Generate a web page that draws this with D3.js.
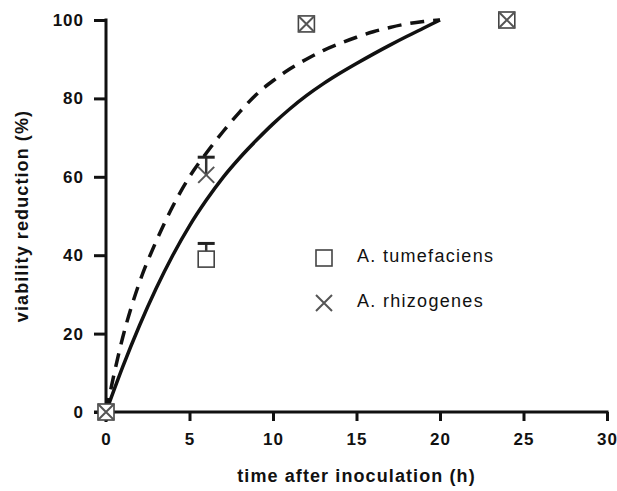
<!DOCTYPE html>
<meta charset="utf-8">
<head>
    <title>Viability reduction</title>
</head>
<style>
 body { margin: 0; background: #fff; }
 text { font-family: "Liberation Sans", Arial, sans-serif; }
 .axis path, .axis line { stroke: #111; stroke-width: 3px; }
 .axis text { font-size: 17px; font-weight: bold; fill: #111; letter-spacing: 1px; }
 .title { font-size: 18px; font-weight: bold; fill: #111; letter-spacing: 1.1px; }
 .legend { font-size: 18px; fill: #111; letter-spacing: 1.3px; }
</style>
<body>
<div id="chart"></div>
<script src="https://d3js.org/d3.v7.min.js"></script>
<script>

 // fitted curves
 var curveX = [0, 1, 2, 3, 4, 5, 6, 7, 8, 9, 10, 11, 12, 13, 14, 15, 16, 17, 18, 19, 20];
 var solidY = [0, 11.5, 22, 31.5, 40, 47.5, 54, 59.8, 64.8, 69.3, 73.5, 77.3, 80.7, 83.7, 86.4, 88.9, 91.3, 93.6, 95.8, 97.9, 100];
 var dashedY = [0, 19, 33, 43.5, 52.5, 60, 66, 71.5, 76.5, 81, 84.5, 87.5, 90, 92.2, 94, 95.6, 97, 98.1, 99, 99.6, 100];

 // measured points
 var timeH = [0, 6, 12, 24];
 var tumefaciens = [0, 39, 99, 100];
 var tumefaciensErr = [0, 4, 0, 0];
 var rhizogenes = [0, 60.5, 99, 100];
 var rhizogenesErr = [0, 4.5, 0, 0];

 var xTicks = [0, 5, 10, 15, 20, 25, 30];
 var yTicks = [0, 20, 40, 60, 80, 100];

 var width = 617, height = 491;
 var margin = {left: 106, right: 10, top: 20, bottom: 79};

 var svg = d3.select("#chart").append("svg")
             .attr("width", width)
             .attr("height", height);

 var x = d3.scaleLinear().domain([0, 30]).range([margin.left, 607]);
 var y = d3.scaleLinear().domain([0, 100]).range([height - margin.bottom, margin.top]);

 // axes
 var xAxis = svg.append("g")
                .attr("class", "axis")
                .attr("transform", "translate(0," + y(0) + ")")
                .call(d3.axisBottom(x).tickValues(xTicks).tickSize(9).tickSizeOuter(0).tickPadding(12));
 xAxis.select(".domain").attr("d", "M" + (x(0) - 12) + ",0H" + (x(30) + 1.5));

 var yAxis = svg.append("g")
                .attr("class", "axis")
                .attr("transform", "translate(" + x(0) + ",0)")
                .call(d3.axisLeft(y).tickValues(yTicks).tickSize(12).tickSizeOuter(0).tickPadding(10));
 yAxis.select(".domain").attr("d", "M0," + (y(100) - 1.5) + "V" + (y(0) + 10));

 // curves
 var line = d3.line()
              .x(function(d) { return x(d[0]); })
              .y(function(d) { return y(d[1]); })
              .curve(d3.curveMonotoneX);

 svg.append("path")
    .datum(curveX.map(function(v, i) { return [v, solidY[i]]; }))
    .attr("fill", "none")
    .attr("stroke", "#111")
    .attr("stroke-width", 3.5)
    .attr("d", line);

 svg.append("path")
    .datum(curveX.map(function(v, i) { return [v, dashedY[i]]; }))
    .attr("fill", "none")
    .attr("stroke", "#111")
    .attr("stroke-width", 3.5)
    .attr("stroke-dasharray", "14,9")
    .attr("d", line);

 // error bars (upper only)
 function errorBars(vals, errs) {
     var g = svg.append("g");
     vals.forEach(function(v, i) {
         if (!errs[i]) return;
         var cx = x(timeH[i]);
         g.append("line")
          .attr("x1", cx).attr("x2", cx)
          .attr("y1", y(v)).attr("y2", y(v + errs[i]))
          .attr("stroke", "#333").attr("stroke-width", 2.5);
         g.append("line")
          .attr("x1", cx - 8.5).attr("x2", cx + 8.5)
          .attr("y1", y(v + errs[i])).attr("y2", y(v + errs[i]))
          .attr("stroke", "#222").attr("stroke-width", 3);
     });
 }
 errorBars(tumefaciens, tumefaciensErr);
 errorBars(rhizogenes, rhizogenesErr);

 var sq = 16, cr = 8;

 function square(g, cx, cy) {
     g.append("rect")
      .attr("x", cx - sq / 2).attr("y", cy - sq / 2)
      .attr("width", sq).attr("height", sq)
      .attr("fill", "#fff")
      .attr("stroke", "#444")
      .attr("stroke-width", 1.6);
 }

 function cross(g, cx, cy) {
     g.append("path")
      .attr("d", "M" + (cx - cr) + "," + (cy - cr) + "L" + (cx + cr) + "," + (cy + cr) +
                 "M" + (cx - cr) + "," + (cy + cr) + "L" + (cx + cr) + "," + (cy - cr))
      .attr("fill", "none")
      .attr("stroke", "#555")
      .attr("stroke-width", 2);
 }

 var pts = svg.append("g");
 tumefaciens.forEach(function(v, i) { square(pts, x(timeH[i]), y(v)); });
 rhizogenes.forEach(function(v, i) { cross(pts, x(timeH[i]), y(v)); });

 // legend
 var leg = svg.append("g");
 square(leg, 324, 258);
 cross(leg, 324, 303);
 leg.append("text").attr("class", "legend").attr("x", 357).attr("y", 262).text("A. tumefaciens");
 leg.append("text").attr("class", "legend").attr("x", 357).attr("y", 307).text("A. rhizogenes");

 // axis titles
 svg.append("text")
    .attr("class", "title")
    .attr("text-anchor", "middle")
    .attr("x", x(15))
    .attr("y", 482)
    .text("time after inoculation (h)");

 svg.append("text")
    .attr("class", "title")
    .attr("text-anchor", "middle")
    .attr("transform", "translate(28," + y(50) + ") rotate(-90)")
    .text("viability reduction (%)");

</script>
</body>
